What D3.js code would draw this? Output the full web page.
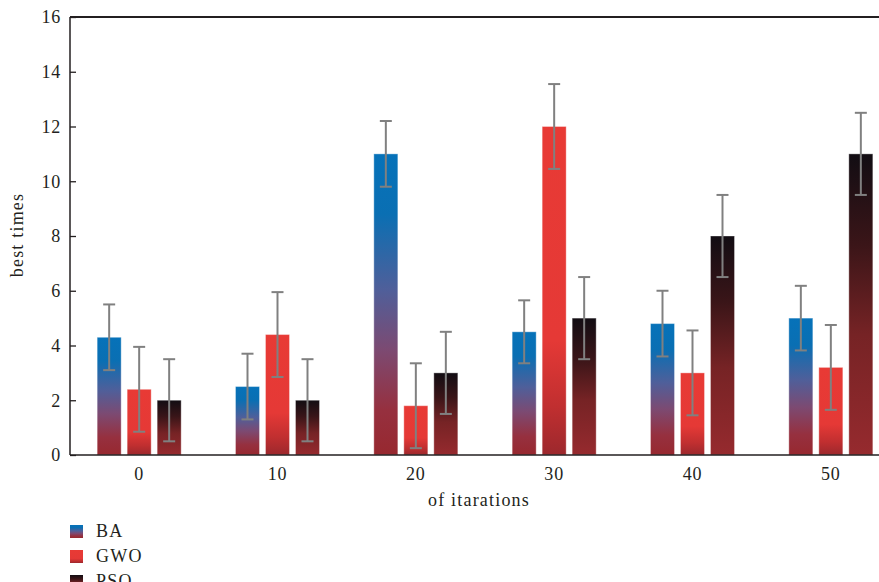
<!DOCTYPE html>
<html><head><meta charset="utf-8">
<script src="https://cdn.jsdelivr.net/npm/d3@7"></script>
<style>body{margin:0;background:#fff}svg{display:block}</style>
</head><body>
<svg id="c" width="879" height="582"></svg>
<script>
const categories = ["0","10","20","30","40","50"];
const seriesNames = ["BA","GWO","PSO"];
const BA  = [4.3, 2.5, 11.0, 4.5, 4.8, 5.0];
const GWO = [2.4, 4.4, 1.8, 12.0, 3.0, 3.2];
const PSO = [2.0, 2.0, 3.0, 5.0, 8.0, 11.0];
const BA_err  = [1.2, 1.2, 1.2, 1.15, 1.2, 1.18];
const GWO_err = [1.55, 1.55, 1.55, 1.55, 1.55, 1.55];
const PSO_err = [1.5, 1.5, 1.5, 1.5, 1.5, 1.5];
const yTicks = [0,2,4,6,8,10,12,14,16];

(function(){
const FONT = "'Liberation Serif', 'DejaVu Serif', 'Times New Roman', serif";
const svg = d3.select("#c");
const mL = 70, mT = 17, mB = 455, mR = 900;
const x = d3.scaleBand().domain(categories).range([mL, mR]).padding(0);
const y = d3.scaleLinear().domain([0,16]).range([mB, mT]);
const sx = d3.scaleBand().domain(seriesNames).range([-45, 45]).paddingInner(0.2).paddingOuter(0.1);

const defs = svg.append("defs");
const grads = {
  BA: [[0,"#0672b9"],[0.2,"#0a6fb3"],[0.45,"#4f5f9a"],[0.65,"#7c4a72"],[0.85,"#96303f"],[1,"#97282f"]],
  GWO:[[0,"#e83a35"],[0.65,"#e53936"],[0.85,"#c12f30"],[1,"#9c282d"]],
  PSO:[[0,"#120d13"],[0.3,"#3a1518"],[0.6,"#762325"],[1,"#962a2e"]]
};
Object.entries(grads).forEach(([k,stops])=>{
  const g = defs.append("linearGradient").attr("id","g"+k).attr("x1",0).attr("y1",0).attr("x2",0).attr("y2",1);
  stops.forEach(s=>g.append("stop").attr("offset",s[0]).attr("stop-color",s[1]));
});

const data = {BA, GWO, PSO};
const errs = {BA: BA_err, GWO: GWO_err, PSO: PSO_err};

seriesNames.forEach(s=>{
  const gs = svg.append("g");
  categories.forEach((c,i)=>{
    const cx = x(c) + x.bandwidth()/2;
    const bx = cx + sx(s);
    gs.append("rect").attr("x",bx).attr("width",sx.bandwidth())
      .attr("y",y(data[s][i])).attr("height",y(0)-y(data[s][i]))
      .attr("fill","url(#g"+s+")").attr("stroke","rgba(255,255,255,0.35)").attr("stroke-width",1);
  });
});
seriesNames.forEach(s=>{
  categories.forEach((c,i)=>{
    const mx = x(c) + x.bandwidth()/2 + sx(s) + sx.bandwidth()/2;
    const v = data[s][i], e = errs[s][i];
    const g = svg.append("g").attr("stroke","#808080").attr("stroke-width",2);
    g.append("line").attr("x1",mx).attr("x2",mx).attr("y1",y(v+e)).attr("y2",y(v-e));
    g.append("line").attr("x1",mx-6).attr("x2",mx+6).attr("y1",y(v+e)).attr("y2",y(v+e));
    g.append("line").attr("x1",mx-6).attr("x2",mx+6).attr("y1",y(v-e)).attr("y2",y(v-e));
  });
});

const yAx = svg.append("g").attr("transform",`translate(${mL},0)`)
  .call(d3.axisLeft(y).tickValues(yTicks).tickSize(-6).tickPadding(9));
yAx.select(".domain").remove();
yAx.selectAll("line").attr("stroke","#231f20").attr("stroke-width",1.3);

svg.append("line").attr("x1",mL).attr("x2",879).attr("y1",mT).attr("y2",mT).attr("stroke","#231f20").attr("stroke-width",2);
svg.append("line").attr("x1",mL).attr("x2",879).attr("y1",mB).attr("y2",mB).attr("stroke","#231f20").attr("stroke-width",1.5);
svg.append("line").attr("x1",mL).attr("x2",mL).attr("y1",mT).attr("y2",mB).attr("stroke","#231f20").attr("stroke-width",1.5);

const xAx = svg.append("g").attr("transform",`translate(0,${mB})`)
  .call(d3.axisBottom(x).tickSize(0).tickPadding(12));
xAx.select(".domain").remove();

svg.append("text").attr("class","ttl").attr("x",479).attr("y",506).attr("text-anchor","middle").text("of itarations");
svg.append("text").attr("class","ttl").attr("transform","translate(23,235) rotate(-90)").attr("text-anchor","middle").text("best times");

const lg = svg.append("g");
seriesNames.forEach((s,i)=>{
  const yy = 525 + i*25;
  lg.append("rect").attr("x",70).attr("y",yy).attr("width",13).attr("height",13).attr("fill","url(#g"+s+")");
  lg.append("text").attr("class","lgt").attr("x",96).attr("y",yy+12).text(s);
});

svg.selectAll("g").attr("font-family", null).attr("font-size", null);
svg.selectAll("text").style("font-family", FONT).style("font-size","18px").style("fill","#231f20");
svg.selectAll("text.ttl").style("letter-spacing","1.2px");
svg.selectAll("text.lgt").style("letter-spacing","1.2px");
yAx.selectAll("text").style("letter-spacing","0.8px");
xAx.selectAll("text").style("letter-spacing","0.8px");
})();
</script>
</body></html>
